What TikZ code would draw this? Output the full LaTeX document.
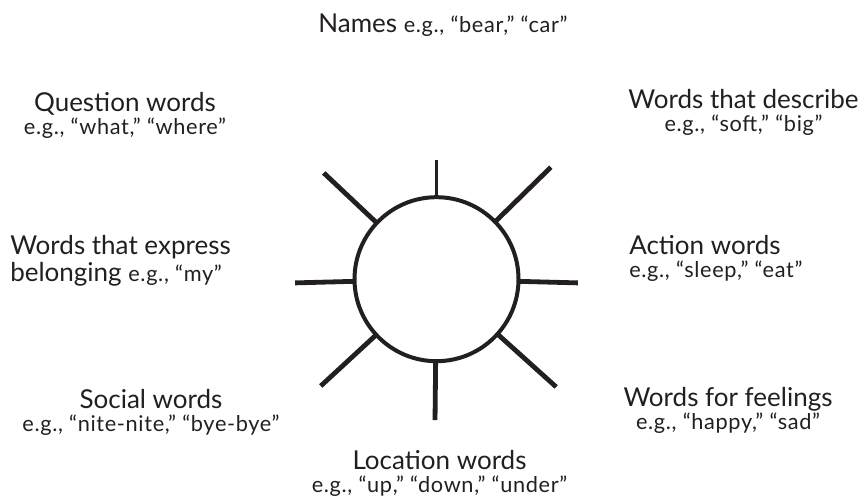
\documentclass[tikz,border=0pt]{standalone}
\usepackage{fontspec}
\setmainfont{Lato}
\newfontfamily\egfont[LetterSpace=3]{Lato}
\definecolor{ink}{HTML}{231F20}
\newcommand{\lbltxt}{\fontsize{19.5}{17.25}\selectfont}
\newcommand{\egtxt}{\egfont\fontsize{16.3}{17.25}\selectfont}
\tikzset{
  hub/.style={circle,draw=ink,line width=3pt,minimum size=123pt,inner sep=0pt},
  ray/.style={draw=ink,line width=3.6pt},
  thinray/.style={draw=ink,line width=2.4pt},
  lbl/.style={text=ink,font=\lbltxt,inner sep=0pt,anchor=base}
}
\begin{document}
\begin{tikzpicture}[x=0.75pt,y=0.75pt]
\useasboundingbox (0,0) rectangle (864,502);
\pgfmathsetmacro{\hx}{436.5}
\pgfmathsetmacro{\hy}{222.8}
\pgfmathsetmacro{\rin}{82}
\node[hub] (hub) at (\hx,\hy) {};
\draw[thinray]([shift={(90:\rin)}]hub.center)--([shift={(90:119)}]hub.center);
\foreach \ang/\rout in {136.7/155,44.4/160,181.5/141.5,358.5/141.5,222.7/157.5,318/161,269.4/141}{\draw[ray]([shift={(\ang:\rin)}]hub.center)--([shift={(\ang:\rout)}]hub.center);}
\node[lbl] (names) at (443,469) {Names {\egtxt e.g., “bear,” “car”}};
\node[lbl,align=center] (question) at (125,367) {Question words\\{\egtxt e.g., “what,” “where”}};
\node[lbl,align=center] (describe) at (743.5,370.3) {Words that describe\\{\egtxt e.g., “soft,” “big”}};
\node[lbl,align=left,anchor=base west] (express) at (10,220.3) {Words that express\\[1.5pt]belonging {\egtxt e.g., “my”}};
\node[lbl,align=left,anchor=base west] (action) at (629,224) {Action words\\{\egtxt e.g., “sleep,” “eat”}};
\node[lbl,align=center] (social) at (151,70.3) {Social words\\{\egtxt e.g., “nite-nite,” “bye-bye”}};
\node[lbl,align=center] (feelings) at (728,72) {Words for feelings\\{\egtxt e.g., “happy,” “sad”}};
\node[lbl,align=center] (location) at (439.5,9) {Location words\\{\egtxt e.g., “up,” “down,” “under”}};
\end{tikzpicture}
\end{document}
